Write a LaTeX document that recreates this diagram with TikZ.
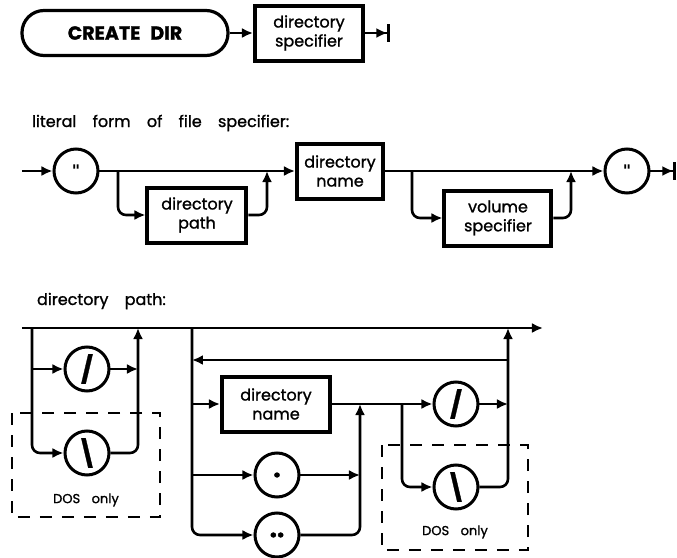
\documentclass[tikz,border=0pt]{standalone}
\usepackage{fontspec}
\setmainfont{Poppins}[FakeBold=1.2]
\newfontfamily\quotefont{DejaVu Sans}
\usetikzlibrary{arrows.meta,positioning}

\begin{document}
\begin{tikzpicture}[x=0.5pt,y=-0.5pt,
  rail/.style={line width=1.3pt, rounded corners=4pt},
  into/.style={-{Latex[length=5.5pt,width=5pt]}},
  stopper/.style={-{Latex[length=5.5pt,width=5pt]Bar[width=9pt,line width=1.3pt]}},
  keyword/.style={draw, line width=1.6pt, rounded corners=11pt, inner sep=0pt,
    minimum width=103pt, minimum height=22.5pt, font=\bfseries\fontsize{9.5}{12}\selectfont},
  syntax/.style={draw, line width=2pt, inner sep=0pt, align=center,
    minimum height=27.5pt, font=\fontsize{8}{9.5}\selectfont},
  literal/.style={draw, circle, line width=1.5pt, inner sep=0pt, minimum size=22pt,
    font=\bfseries\fontsize{13}{13}\selectfont},
  quote/.style={literal, font=\quotefont\bfseries\fontsize{8}{8}\selectfont},
  dosbox/.style={draw, line width=1pt, dash pattern=on 6pt off 5pt},
  caption/.style={anchor=base west, font=\fontsize{8}{9.5}\selectfont},
  doslabel/.style={font=\fontsize{6.5}{8}\selectfont}]
  \useasboundingbox (0,0) rectangle (677,558);

  % CREATE DIR statement
  \node[keyword] (create) at (125,33) {CREATE\hspace{5pt}DIR};
  \node[syntax, minimum width=54pt] (dirspec) at (309,33) {directory\\specifier};
  \coordinate (stmtend) at (390,33);
  \draw[rail,into] (create) -- (dirspec);
  \draw[rail,stopper] (dirspec) -- (stmtend);

  % literal form
  \node[caption] (litcap) at (25,127)
    {literal\hspace{6pt} form\hspace{6pt} of\hspace{6pt} file\hspace{6pt} specifier:};
  \coordinate (litstart) at (22,171);
  \node[quote] (qopen) at (76,171) {"};
  \coordinate (j1) at (118,171);
  \node[syntax, minimum width=49.5pt] (dpath) at (197,215) {directory\\path};
  \coordinate (j2) at (267,171);
  \node[syntax, minimum width=43pt] (dname) at (340,171) {directory\\name};
  \coordinate (j3) at (412,171);
  \node[syntax, minimum width=53.5pt] (vspec) at (498,218) {volume\\specifier};
  \coordinate (j4) at (571,171);
  \node[quote] (qclose) at (627,171) {"};
  \coordinate (litend) at (676,171);

  \draw[rail,into] (litstart) -- (qopen);
  \draw[rail,into] (qopen) -- (dname);
  \draw[rail,into] (j1) |- (dpath);
  \draw[rail,into] (dpath) -| (j2);
  \draw[rail,into] (dname) -- (qclose);
  \draw[rail,into] (j3) |- (vspec);
  \draw[rail,into] (vspec) -| (j4);
  \draw[rail,stopper] (qclose) -- (litend);

  % directory path
  \node[caption] (pathcap) at (30,305) {directory\hspace{6pt} path:};
  \coordinate (pstart) at (22,328);
  \coordinate (pend) at (543,328);
  \coordinate (a1) at (32,328);
  \coordinate (a2) at (138,328);
  \coordinate (b1) at (192,328);
  \coordinate (b2) at (508,328);
  \coordinate (backR) at (508,360);
  \coordinate (backL) at (192,360);
  \coordinate (c1) at (360,404);
  \coordinate (d1) at (402,404);

  \node[literal] (slashA) at (87,369) {/};
  \node[literal] (bslashA) at (87,453) {\textbackslash};
  \node[syntax, minimum width=54pt] (dname2) at (276,404) {directory\\name};
  \node[literal] (dot) at (277,475) {.};
  \node[literal] (ddot) at (277,535) {..};
  \node[literal] (slashB) at (456,404) {/};
  \node[literal] (bslashB) at (456,487) {\textbackslash};

  \draw[rail,into] (pstart) -- (pend);
  \draw[rail,into] (a1) |- (bslashA);
  \draw[rail,into] (slashA -| a1) -- (slashA);
  \draw[rail,into] (slashA) -- (slashA -| a2);
  \draw[rail,into] (bslashA) -| (a2);

  \draw[rail,into] (b1) |- (ddot);
  \draw[rail,into] (backR) -- (backL);
  \draw[rail,into] (dname2 -| b1) -- (dname2);
  \draw[rail,into] (dot -| b1) -- (dot);
  \draw[rail,into] (dot) -- (dot -| c1);
  \draw[rail,into] (ddot) -| (c1);
  \draw[rail,into] (dname2) -- (slashB);
  \draw[rail,into] (d1) |- (bslashB);
  \draw[rail,into] (slashB) -- (slashB -| b2);
  \draw[rail,into] (bslashB) -| (b2);

  \draw[dosbox] (12,413) rectangle (160,517);
  \node[doslabel] (dosA) at (86,500) {DOS\hspace{4pt} only};
  \draw[dosbox] (382,445) rectangle (528,550);
  \node[doslabel] (dosB) at (455,532) {DOS\hspace{4pt} only};
\end{tikzpicture}
\end{document}
